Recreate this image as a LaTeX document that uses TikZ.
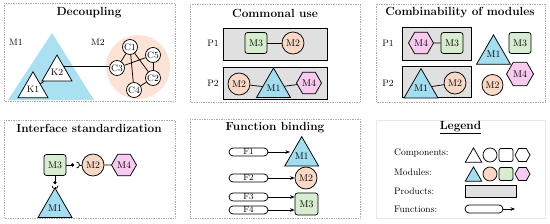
\documentclass[tikz,border=0pt]{standalone}
\usetikzlibrary{shapes.geometric,arrows.meta}
\definecolor{cblue}{RGB}{163,221,240}
\definecolor{cblueL}{RGB}{170,225,242}
\definecolor{cpeach}{RGB}{250,216,198}
\definecolor{cpeachL}{RGB}{252,227,214}
\definecolor{cgreen}{RGB}{214,237,208}
\definecolor{cpink}{RGB}{248,202,240}
\definecolor{cgray}{RGB}{224,224,224}
\begin{document}
\begin{tikzpicture}[x=1pt,y=-1pt,
  panel/.style={draw=gray!65, densely dotted, line width=0.7pt},
  legendbox/.style={draw=gray!18, line width=0.7pt},
  ttl/.style={font=\fontsize{11.8}{14}\selectfont\bfseries, inner sep=0pt},
  lbl/.style={font=\fontsize{9.3}{10}\selectfont, inner sep=0pt},
  lgd/.style={font=\fontsize{9.5}{11}\selectfont, inner sep=0pt, anchor=west},
  mtxt/.style={font=\fontsize{9.8}{10}\selectfont, inner sep=0pt, line width=0.75pt, draw},
  tri/.style={mtxt, regular polygon, regular polygon sides=3, minimum size=33.4pt},
  ktri/.style={mtxt, font=\fontsize{9.3}{10}\selectfont, regular polygon, regular polygon sides=3, minimum size=28pt, fill=white},
  cc/.style={mtxt, font=\fontsize{9.3}{10}\selectfont, circle, minimum size=15pt, fill=white},
  circ/.style={mtxt, circle, minimum size=22pt},
  sq/.style={mtxt, rectangle, rounded corners=2.5pt, minimum width=22pt, minimum height=21pt},
  hexa/.style={mtxt, regular polygon, regular polygon sides=6, minimum size=25pt},
  prod/.style={draw, fill=cgray, line width=0.8pt, inner sep=0pt},
  func/.style={draw, rectangle, rounded corners=4pt, minimum width=39pt, minimum height=8pt, inner sep=0pt, font=\fontsize{8.8}{9}\selectfont, line width=0.75pt},
  link/.style={line width=0.75pt},
  farrow/.style={-{Stealth[length=4.5pt,width=3.6pt]}, line width=0.95pt}
]
\useasboundingbox (0,0) rectangle (550,224);

% ---------- panel frames
\draw[panel] (4,3) rectangle (175,101);
\draw[panel] (190,4) rectangle (360,102);
\draw[panel] (376,4) rectangle (545,102);
\draw[panel] (4,120) rectangle (175,218);
\draw[panel] (190,119) rectangle (360,218);
\draw[legendbox] (376,120) rectangle (545,218);

% ---------- Decoupling
\node[ttl] (t1) at (89,13) {Decoupling};
\fill[cblueL] (8,100) -- (52,33) -- (94,100) -- cycle;
\fill[cpeachL] (138,67) circle[radius=32pt];
\node[lbl] (lm1) at (16,42) {M1};
\node[lbl] (lm2) at (98,42) {M2};
\node[ktri] (K2) at (57,72.3) {K2};
\node[ktri] (K1) at (33,89) {K1};
\node[cc] (C1) at (130,47) {C1};
\node[cc] (C5) at (153,55) {C5};
\node[cc] (C3) at (117,68) {C3};
\node[cc] (C2) at (153,78) {C2};
\node[cc] (C4) at (134,90) {C4};
\path (K2.corner 1) -- (K2.corner 3) coordinate[pos=0.46] (k2r);
\draw[link] (K1) -- (K2);
\draw[link] (k2r) -- (k2r -| C3.west);
\draw[link] (C1) -- (C3);
\draw[link] (C1) -- (C4);
\draw[link] (C1) -- (C2);
\draw[link] (C3) -- (C5);
\draw[link] (C5) -- (C2);
\draw[link] (C2) -- (C4);

% ---------- Commonal use
\node[ttl] (t2) at (275,13) {Commonal use};
\node[prod, minimum width=104pt, minimum height=32pt] (pa1) at (275,44) {};
\node[lbl] (pl1) at (213,43) {P1};
\node[sq, fill=cgreen] (a3) at (256,43) {M3};
\node[circ, fill=cpeach] (a2) at (293,43) {M2};
\draw[link] (a3) -- (a2);
\node[prod, minimum width=104pt, minimum height=32pt] (pa2) at (275,83) {};
\node[lbl] (pl2) at (213,83) {P2};
\node[circ, fill=cpeach] (b2) at (239,84) {M2};
\node[tri, fill=cblue] (b1) at (273.5,87.7) {M1};
\node[hexa, fill=cpink] (b4) at (309,83) {M4};
\draw[link] (b2) -- (b1);
\draw[link] (b1) -- (b4);

% ---------- Combinability of modules
\node[ttl] (t3) at (460,13) {Combinability of modules};
\node[prod, minimum width=69pt, minimum height=33pt] (pc1) at (436.5,43.5) {};
\node[lbl] (pl3) at (388,43) {P1};
\node[hexa, fill=cpink] (c4) at (421,43) {M4};
\node[sq, fill=cgreen] (c3) at (452,43) {M3};
\draw[link] (c4) -- (c3);
\node[prod, minimum width=69pt, minimum height=31pt] (pc2) at (436.5,81.5) {};
\node[lbl] (pl4) at (388,83) {P2};
\node[tri, fill=cblue] (d1) at (421,88.2) {M1};
\node[circ, fill=cpeach] (d2) at (455,83) {M2};
\draw[link] (d1) -- (d2);
\node[tri, fill=cblue] (e1) at (493.5,54.5) {M1};
\node[sq, fill=cgreen] (e3) at (520,43) {M3};
\node[hexa, fill=cpink, minimum size=27pt] (e4) at (520,74) {M4};
\node[circ, fill=cpeach, minimum size=21pt] (e2) at (492.5,85) {M2};

% ---------- Interface standardization
\node[ttl] (t4) at (89,128) {Interface standardization};
\node[sq, fill=cgreen] (g3) at (55,165) {M3};
\node[circ, fill=cpeach] (g2) at (93,165) {M2};
\node[hexa, fill=cpink] (g4) at (124,165) {M4};
\node[tri, fill=cblue, minimum size=32pt] (g1) at (55,207.7) {M1};
\coordinate (ball1) at (72.5,165);
\coordinate (sock1) at (76.5,162);
\coordinate (sk1) at (79.5,165);
\draw[link] (g3) -- (ball1);
\fill (ball1) circle[radius=1.8pt];
\draw[link] (sock1) arc[start angle=90, end angle=-90, radius=3pt];
\draw[link] (sk1) -- (g2);
\draw[link] (g2) -- (g4);
\coordinate (ball2) at (55,182.7);
\coordinate (sock2) at (52,185.7);
\coordinate (sk2) at (55,188.7);
\draw[link] (g3) -- (ball2);
\fill (ball2) circle[radius=1.8pt];
\draw[link] (sock2) arc[start angle=180, end angle=360, radius=3pt];
\draw[link] (sk2) -- (g1.corner 1);

% ---------- Function binding
\node[ttl] (t5) at (275,128) {Function binding};
\node[func] (f1) at (248.5,152) {F1};
\node[func] (f2) at (248.5,178) {F2};
\node[func] (f3) at (248.5,197) {F3};
\node[func] (f4) at (248.5,210) {F4};
\node[tri, fill=cblue, minimum size=34pt] (h1) at (301.7,156.3) {M1};
\node[circ, fill=cpeach] (h2) at (306,178) {M2};
\node[sq, fill=cgreen, minimum width=23pt, minimum height=22pt] (h3) at (306.5,204) {M3};
\draw[farrow] (f1) -- (f1 -| h1.west);
\draw[farrow] (f2) -- (h2);
\draw[farrow] (f3) -- (f3 -| h3.west);
\draw[farrow] (f4) -- (f4 -| h3.west);

% ---------- Legend
\node[ttl] (t6) at (460.5,128) {\underline{Legend}};
\node[lgd] (l1) at (394,153) {Components:};
\node[lgd] (l2) at (394,172) {Modules:};
\node[lgd] (l3) at (394,191) {Products:};
\node[lgd] (l4) at (394,209) {Functions:};
\node[mtxt, regular polygon, regular polygon sides=3, minimum size=19pt] (s1) at (473.5,157.4) {};
\node[mtxt, circle, minimum size=14pt] (s2) at (490,155) {};
\node[mtxt, rectangle, rounded corners=2pt, minimum width=14pt, minimum height=13pt] (s3) at (506,155) {};
\node[mtxt, regular polygon, regular polygon sides=6, minimum size=15pt] (s4) at (522.5,155) {};
\node[mtxt, fill=cblue, regular polygon, regular polygon sides=3, minimum size=19pt] (m1) at (473.5,176.4) {};
\node[mtxt, fill=cpeach, circle, minimum size=14pt] (m2) at (490,174) {};
\node[mtxt, fill=cgreen, rectangle, rounded corners=2pt, minimum width=14pt, minimum height=13pt] (m3) at (506,174) {};
\node[mtxt, fill=cpink, regular polygon, regular polygon sides=6, minimum size=15pt] (m4) at (522.5,174) {};
\node[prod, minimum width=51pt, minimum height=12pt] (pp) at (490.5,191) {};
\node[func, minimum width=38pt] (ff) at (484,209) {};
\coordinate (fend) at (515,209);
\draw[farrow] (ff) -- (fend);
\end{tikzpicture}
\end{document}
